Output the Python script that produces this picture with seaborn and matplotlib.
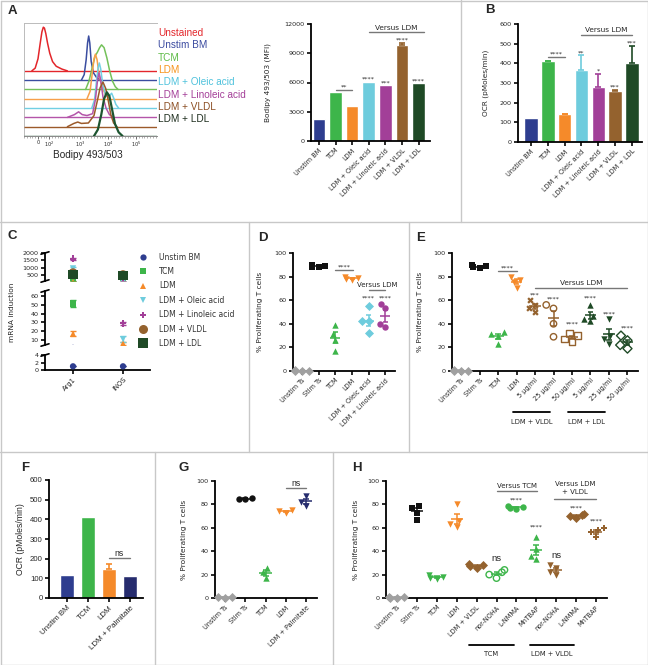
import numpy as np
import pandas as pd
import matplotlib
matplotlib.use("Agg")
import matplotlib.pyplot as plt
from matplotlib.lines import Line2D
import seaborn as sns

# ======================= DATA =======================
# Panel A (left): Bodipy 493/503 histograms (x in log10 decades, y = height above own baseline)
hist_names = ["Unstained", "Unstim BM", "TCM", "LDM", "LDM + Oleic acid",
              "LDM + Linoleic acid", "LDM + VLDL", "LDM + LDL"]
unstained_x = [1.28, 1.40, 1.50, 1.58, 1.64, 1.69, 1.73, 1.78, 1.84, 1.92, 2.02, 2.15, 2.35, 2.55]
unstained_y = [0.0, 0.3, 1.3, 3.0, 4.2, 4.7, 4.6, 4.0, 3.0, 1.9, 1.0, 0.5, 0.2, 0.0]
unstimbm_x = [3.05, 3.15, 3.22, 3.27, 3.31, 3.35, 3.40, 3.48, 3.60, 3.75]
unstimbm_y = [0.0, 0.6, 2.2, 4.0, 4.75, 4.0, 2.0, 0.8, 0.25, 0.0]
tcm_x = [3.20, 3.32, 3.44, 3.54, 3.62, 3.70, 3.77, 3.86, 3.96, 4.06, 4.16, 4.26, 4.36]
tcm_y = [0.0, 0.9, 2.4, 3.6, 4.0, 4.5, 4.8, 4.5, 3.4, 2.0, 0.9, 0.3, 0.0]
ldm_x = [3.25, 3.36, 3.44, 3.50, 3.55, 3.61, 3.68, 3.78, 3.92, 4.08]
ldm_y = [0.0, 0.8, 2.8, 4.3, 4.8, 4.2, 2.6, 1.3, 0.4, 0.0]
oleic_x = [3.42, 3.52, 3.60, 3.65, 3.69, 3.74, 3.82, 3.92, 4.04, 4.13, 4.20, 4.28, 4.38]
oleic_y = [0.0, 0.9, 3.2, 4.4, 4.85, 4.2, 2.4, 1.4, 1.3, 1.6, 1.1, 0.4, 0.0]
linoleic_x = [2.55, 2.80, 2.95, 3.08, 3.25, 3.45, 3.55, 3.63, 3.68, 3.74, 3.82, 3.93, 4.05, 4.20]
linoleic_y = [0.0, 0.3, 0.6, 0.3, 0.2, 0.4, 1.9, 4.1, 4.8, 4.0, 2.2, 1.0, 0.3, 0.0]
vldl_x = [2.55, 2.78, 2.92, 3.05, 3.30, 3.50, 3.62, 3.72, 3.82, 3.92, 4.01, 4.10, 4.20, 4.32]
vldl_y = [0.0, 0.35, 0.5, 0.35, 0.4, 1.2, 2.8, 4.2, 4.8, 4.1, 2.8, 1.3, 0.4, 0.0]
ldl_x = [3.50, 3.64, 3.76, 3.86, 3.96, 4.05, 4.15, 4.25, 4.38, 4.52]
ldl_y = [0.0, 0.7, 2.3, 4.0, 4.7, 4.3, 2.8, 1.3, 0.4, 0.0]
hist_ticklabels = ["0", "$10^2$", "$10^3$", "$10^4$", "$10^5$"]

# Panel A (right) and B: bar charts
mac_groups = ["Unstim BM", "TCM", "LDM", "LDM + Oleic acid", "LDM + Linoleic acid",
              "LDM + VLDL", "LDM + LDL"]
bodipy_mfi = [2300, 5000, 3600, 6050, 5700, 9800, 5900]
bodipy_err = [0, 0, 0, 0, 0, 250, 0]
ocr_b = [120, 410, 140, 365, 280, 258, 402]
ocr_b_err = [0, 3, 4, 75, 65, 6, 85]

# Panel C: mRNA induction
genes = ["Arg1", "iNOS"]
arg1_fold = [1, 52, 17, 950, 1600, 650, 560]
arg1_err = [0, 4, 3, 90, 80, 70, 60]
inos_fold = [1, 330, 6, 11, 29, 520, 450]
inos_err = [0, 50, 1.4, 3, 2, 60, 50]

# Panel D
d_groups = ["Unstim Ts", "Stim Ts", "TCM", "LDM", "LDM + Oleic acid", "LDM + Linoleic acid"]
d_values = [[0.4, 0.2, 0.6, 0.3], [88, 89, 90, 88], [39, 31, 26, 17], [80, 79, 78, 77],
            [55, 42, 42, 32], [57, 53, 40, 37]]

# Panel E
e_groups = ["Unstim Ts", "Stim Ts", "TCM", "LDM", "VLDL 5", "VLDL 25", "VLDL 50",
            "LDL 5", "LDL 25", "LDL 50"]
e_ticklabels = ["Unstim Ts", "Stim Ts", "TCM", "LDM", "5 µg/ml", "25 µg/ml", "50 µg/ml",
                "5 µg/ml", "25 µg/ml", "50 µg/ml"]
e_values = [[0.4, 0.2, 0.6, 0.3], [87, 88, 89, 90], [33, 31, 30, 23], [80, 77, 75, 70],
            [60, 56, 53, 50], [56, 53, 40, 29], [32, 30, 27, 25], [56, 47, 44, 42],
            [44, 30, 27, 23], [30, 26, 22, 19]]

# Panel F
f_groups = ["Unstim BM", "TCM", "LDM", "LDM + Palmitate"]
f_ocr = [115, 410, 150, 110]
f_err = [0, 0, 25, 0]

# Panel G
g_groups = ["Unstim Ts", "Stim Ts", "TCM", "LDM", "LDM + Palmitate"]
g_values = [[0.5, 0.8, 0.3], [85, 84.5, 85.5], [26, 22, 17], [75, 74, 73], [87, 82, 79]]

# Panel H
h_groups = ["Unstim Ts", "Stim Ts", "TCM", "LDM", "LDM + VLDL", "TCM nor-NOHA", "TCM L-NMMA",
            "TCM MnTBAP", "VLDL nor-NOHA", "VLDL L-NMMA", "VLDL MnTBAP"]
h_ticklabels = ["Unstim Ts", "Stim Ts", "TCM", "LDM", "LDM + VLDL", "nor-NOHA", "L-NMMA",
                "MnTBAP", "nor-NOHA", "L-NMMA", "MnTBAP"]
h_values = [[0.5, 0.3, 0.8, 0.2], [79, 77, 73, 67], [20, 18, 17, 16], [80, 66, 63, 61],
            [29, 28, 27, 26], [24, 22, 20, 17], [79, 78, 77, 76], [52, 42, 36, 33],
            [28, 26, 22, 20], [72, 71, 70, 68], [60, 58, 56, 52]]

# ======================= STYLE =======================
sns.set_theme(style="ticks")
plt.rcParams["font.family"] = ["DejaVu Sans"]
ARIAL = "Liberation Sans"

NAVY = "#2E3D8F"; GREEN = "#3DB54A"; ORANGE = "#F58A2A"; CYAN = "#6ECCDD"
PURPLE = "#A23F98"; BROWN = "#94622E"; DKGREEN = "#1F4A26"; NAVY2 = "#262C6E"
GRAY = "#A0A0A0"; BLACK = "#111111"; LINEGRAY = "#777777"
mac_colors = [NAVY, GREEN, ORANGE, CYAN, PURPLE, BROWN, DKGREEN]
hist_colors = ["#E3262B", "#3A4DA0", "#74C15A", "#F7A04A", "#71CFE3", "#B455A9", "#9C5A2A", "#1D5530"]
hist_text_colors = ["#E3262B", "#3B4BA0", "#5DBB46", "#F7941D", "#4FC2DC", "#A43F98", "#8C4F24", "#1E2E1E"]

W, H = 648, 665
fig = plt.figure(figsize=(W / 100, H / 100), dpi=100)
fig.patch.set_facecolor("white")


def add_ax(l, t, r, b):
    return fig.add_axes([l / W, 1 - b / H, (r - l) / W, (b - t) / H])


def fline(x0, y0, x1, y1, color="#C8C8C8", lw=1.0):
    fig.add_artist(Line2D([x0 / W, x1 / W], [1 - y0 / H, 1 - y1 / H], color=color, lw=lw))


def ftext(x, y, s, **kw):
    fig.text(x / W, 1 - y / H, s, **kw)


def style(ax, fs=4.6, lw=1.3, family=None):
    sns.despine(ax=ax)
    for s in ["left", "bottom"]:
        ax.spines[s].set_linewidth(lw)
        ax.spines[s].set_color("black")
    ax.tick_params(axis="both", length=3, width=lw * 0.9, labelsize=fs, pad=1.5, color="black")
    ax.set_xlabel("")
    ax.set_ylabel("")
    ax.patch.set_alpha(0)


def set_cats(ax, labels, fs, family=None):
    ax.set_xticks(range(len(labels)))
    ax.set_xticklabels(labels, rotation=45, ha="right", rotation_mode="anchor", fontsize=fs,
                       family=family if family else "DejaVu Sans")


def bracket(ax, x0, x1, y, text, fs=4.6, dy=0.0, family=None):
    ax.plot([x0, x1], [y, y], color=LINEGRAY, lw=1.0, clip_on=False)
    if text:
        ax.text((x0 + x1) / 2, y + dy, text, ha="center", va="bottom", fontsize=fs,
                family=family if family else "DejaVu Sans", clip_on=False)


def star(ax, x, y, text, fs=4.6, family=None):
    ax.text(x, y, text, ha="center", va="bottom", fontsize=fs,
            family=family if family else "DejaVu Sans", clip_on=False)


def bar_panel(ax, groups, vals, errs, colors, width):
    sns.barplot(x=groups, y=vals, hue=groups, hue_order=groups, order=groups, palette=colors,
                legend=False, dodge=False, width=width, saturation=1, errorbar=None, ax=ax)
    for i, (v, e, c) in enumerate(zip(vals, errs, colors)):
        if e > 0:
            ax.errorbar(i, v, yerr=[[0], [e]], fmt="none", ecolor=c, elinewidth=1.2,
                        capsize=2.2, capthick=1.2)


def dot_panel(ax, keys, vals, colors, markers, hollow, size):
    rows = [(k, v) for k, vs in zip(keys, vals) for v in vs]
    df = pd.DataFrame(rows, columns=["grp", "val"])
    for gi, (k, c, m, h) in enumerate(zip(keys, colors, markers, hollow)):
        n0 = len(ax.collections)
        sns.swarmplot(data=df[df.grp == k], x="grp", y="val", order=keys, color=c, marker=m,
                      size=size, linewidth=0, ax=ax, zorder=3)
        for coll in ax.collections[n0:]:
            if gi == 0:
                coll.set_clip_on(False)
            if h:
                coll.set_facecolor("none")
                coll.set_edgecolor(c)
                coll.set_linewidth(1.0)
    for i, (vs, c) in enumerate(zip(vals, colors)):
        m = np.mean(vs)
        se = np.std(vs, ddof=1) / np.sqrt(len(vs))
        ax.hlines(m, i - 0.3, i + 0.3, color=c, lw=1.1, zorder=4, clip_on=False)
        ax.vlines(i, m - se, m + se, color=c, lw=1.1, zorder=4)
        ax.hlines([m - se, m + se], i - 0.15, i + 0.15, color=c, lw=1.1, zorder=4)


# ======================= PANEL BORDERS =======================
fline(0.5, 0.5, W - 0.5, 0.5); fline(0.5, H - 0.5, W - 0.5, H - 0.5)
fline(0.5, 0.5, 0.5, H - 0.5); fline(W - 0.5, 0.5, W - 0.5, H - 0.5)
fline(0, 222, W, 222); fline(0, 452, W, 452)
fline(461, 0, 461, 222)
fline(249, 222, 249, 452); fline(409, 222, 409, 452)
fline(155, 452, 155, H); fline(333, 452, 333, H)

for lab, x, y in [("A", 12, 11), ("B", 490, 10), ("C", 12, 236), ("D", 263, 238),
                  ("E", 421, 238), ("F", 25, 468), ("G", 184, 468), ("H", 357, 468)]:
    ftext(x, y, lab, fontsize=9.5, fontweight="bold", family=ARIAL, ha="center", va="center")

# ======================= PANEL A: histograms =======================
axh = add_ax(24, 23, 157, 136)
curves = [(unstained_x, unstained_y), (unstimbm_x, unstimbm_y), (tcm_x, tcm_y), (ldm_x, ldm_y),
          (oleic_x, oleic_y), (linoleic_x, linoleic_y), (vldl_x, vldl_y), (ldl_x, ldl_y)]
for i, (xs, ys) in enumerate(curves):
    base = 7 - i
    lw = 1.6 if i == 7 else 1.1
    axh.hlines(base, 1.0, 5.75, color=hist_colors[i], lw=1.0, zorder=2 + i)
    sns.lineplot(x=xs, y=np.array(ys) + base, color=hist_colors[i], lw=lw, ax=axh,
                 estimator=None, sort=False, zorder=2 + i)
axh.set_xlim(1.0, 5.75)
axh.set_ylim(0, 12.15)
axh.set_yticks([])
axh.set_xticks([1.5, 1.9, 3, 4, 5])
axh.set_xticklabels(hist_ticklabels, fontsize=3.6)
axh.set_xticks(np.arange(1.0, 5.76, 0.1), minor=True)
axh.tick_params(axis="x", which="major", length=2, width=0.6, pad=1, color="#555555")
axh.tick_params(axis="x", which="minor", length=1.2, width=0.4, color="#777777")
for s in ["top", "left"]:
    axh.spines[s].set_color("#BBBBBB"); axh.spines[s].set_linewidth(0.7)
axh.spines["right"].set_visible(False)
axh.spines["bottom"].set_color("#888888"); axh.spines["bottom"].set_linewidth(0.7)
axh.set_xlabel("")
axh.set_ylabel("")
ftext(88, 155, "Bodipy 493/503", fontsize=7.2, family=ARIAL, ha="center", va="center")
for i, name in enumerate(hist_names):
    ftext(158, 33 + 12.3 * i, name, fontsize=7.2, family=ARIAL, color=hist_text_colors[i],
          ha="left", va="center")

# ======================= PANEL A: bars =======================
axa = add_ax(311, 24, 430, 141)
bar_panel(axa, mac_groups, bodipy_mfi, bodipy_err, mac_colors, 0.76)
style(axa)
axa.set_ylim(0, 12000)
axa.set_yticks([0, 3000, 6000, 9000, 12000])
set_cats(axa, mac_groups, 4.7)
axa.set_xlim(-0.48, 6.69)
axa.set_ylabel("Bodipy 493/503 (MFI)", fontsize=5.3)
axa.yaxis.set_label_coords(-0.34, 0.5)
bracket(axa, 1, 2, 5250, "**")
star(axa, 3, 6050, "****"); star(axa, 4, 5700, "***"); star(axa, 5, 10050, "****"); star(axa, 6, 5900, "****")
bracket(axa, 3.0, 6.3, 11180, "Versus LDM", fs=5.3, dy=150)

# ======================= PANEL B =======================
axb = add_ax(518, 24, 642, 142)
bar_panel(axb, mac_groups, ocr_b, ocr_b_err, mac_colors, 0.8)
style(axb)
axb.set_ylim(0, 600)
axb.set_yticks(range(0, 601, 100))
set_cats(axb, mac_groups, 4.7)
axb.set_xlim(-0.77, 6.6)
axb.set_ylabel("OCR (pMoles/min)", fontsize=5.3)
axb.yaxis.set_label_coords(-0.23, 0.5)
bracket(axb, 1, 2, 432, "****")
star(axb, 3, 442, "**"); star(axb, 4, 347, "*"); star(axb, 5, 266, "***"); star(axb, 6, 489, "***")
bracket(axb, 2.95, 6.0, 544, "Versus LDM", fs=5.3, dy=8)

# ======================= PANEL C (broken axis) =======================
c_markers = ["o", "s", "^", "v", "P", "o", "s"]
c_sizes = [4.5, 5.0, 4.5, 4.5, 5.0, 6.5, 6.5]
segments = [(253, 281, (90, 2000), [500, 1000, 1500, 2000]),
            (291, 345, (4.3, 65.7), [10, 20, 30, 40, 50, 60]),
            (355, 370, (0, 4.05), [0, 2, 4])]
for si, (top, bot, ylim, yt) in enumerate(segments):
    axc = add_ax(45, top, 150, bot)
    for g in range(len(mac_groups)):
        xs = [0, 1]
        ys = [arg1_fold[g], inos_fold[g]]
        es = [arg1_err[g], inos_err[g]]
        axc.errorbar(xs, ys, yerr=es, fmt="none", ecolor=mac_colors[g], elinewidth=1.0,
                     capsize=2, capthick=1.0, zorder=2)
        sns.scatterplot(x=xs, y=ys, marker=c_markers[g], color=mac_colors[g], s=c_sizes[g] ** 2,
                        edgecolor="none", ax=axc, zorder=3)
    style(axc)
    axc.set_ylim(*ylim)
    axc.set_yticks(yt)
    axc.set_xlim(-0.56, 1.54)
    if si < 2:
        axc.spines["bottom"].set_visible(False)
        axc.set_xticks([])
    else:
        set_cats(axc, genes, 4.9)
    for yy in ([top, bot] if si < 2 else [top]):
        fline(41, yy + 1.2, 49, yy - 1.2, color="black", lw=1.2)
ftext(12, 312, "mRNA induction", fontsize=5.3, rotation=90, ha="center", va="center")
for i, name in enumerate(mac_groups):
    yy = 257 + 14.4 * i
    fig.add_artist(Line2D([143 / W], [1 - yy / H], marker=c_markers[i], color=mac_colors[i],
                          markersize=c_sizes[i], linestyle="none", markeredgewidth=0))
    ftext(159, yy, name, fontsize=5.5, ha="left", va="center", color="#333333")

# ======================= PANEL D =======================
axd = add_ax(293, 253, 395, 371)
dot_panel(axd, d_groups, d_values, [GRAY, BLACK, GREEN, ORANGE, CYAN, PURPLE],
          ["D", "s", "^", "v", "D", "o"], [False] * 6, 4.6)
style(axd)
axd.set_ylim(0, 100)
axd.set_yticks(range(0, 101, 20))
set_cats(axd, d_groups, 4.7)
axd.set_xlim(-0.54, 5.57)
axd.set_ylabel("% Proliferating T cells", fontsize=5.3)
axd.yaxis.set_label_coords(-0.29, 0.5)
bracket(axd, 2, 3.05, 85.6, "****")
star(axd, 4, 60, "****"); star(axd, 5, 60, "****")
bracket(axd, 4, 5, 68.6, "Versus LDM", fs=5.0, dy=1.5)

# ======================= PANEL E =======================
axe = add_ax(452, 253, 638, 371)
dot_panel(axe, e_groups, e_values,
          [GRAY, BLACK, GREEN, ORANGE, BROWN, BROWN, BROWN, DKGREEN, DKGREEN, DKGREEN],
          ["D", "s", "^", "v", "X", "o", "s", "^", "v", "D"],
          [False, False, False, False, False, True, True, False, False, True], 4.6)
style(axe)
axe.set_ylim(0, 100)
axe.set_yticks(range(0, 101, 20))
set_cats(axe, e_ticklabels, 4.7)
axe.set_xlim(-0.49, 9.57)
axe.set_ylabel("% Proliferating T cells", fontsize=5.3)
axe.yaxis.set_label_coords(-0.156, 0.5)
bracket(axe, 2, 3, 85, "****")
bracket(axe, 4, 9, 70.6, "Versus LDM", fs=5.3, dy=1.5)
for xi, yv, t in [(4, 62.5, "***"), (5, 58.5, "****"), (6, 37.5, "****"),
                  (7, 59.5, "****"), (8, 46, "****"), (9, 34, "****")]:
    star(axe, xi, yv, t)
trE = axe.get_xaxis_transform()
for (x0, x1, lab) in [(2.8, 4.8, "LDM + VLDL"), (5.8, 7.8, "LDM + LDL")]:
    axe.plot([x0, x1], [-0.347, -0.347], color="black", lw=1.3, transform=trE, clip_on=False)
    axe.text((x0 + x1) / 2, -0.43, lab, transform=trE, ha="center", va="center", fontsize=4.9)

# ======================= PANEL F =======================
axf = add_ax(49, 480, 143, 598)
bar_panel(axf, f_groups, f_ocr, f_err, [NAVY, GREEN, ORANGE, NAVY2], 0.68)
style(axf, fs=5.6)
axf.set_ylim(0, 600)
axf.set_yticks(range(0, 601, 100))
for lab in axf.get_yticklabels():
    lab.set_family(ARIAL)
set_cats(axf, f_groups, 5.8, family=ARIAL)
axf.set_xlim(-0.86, 3.62)
axf.set_ylabel("OCR (pMoles/min)", fontsize=6.2, family=ARIAL)
axf.yaxis.set_label_coords(-0.255, 0.5)
bracket(axf, 2, 3, 203, "ns", fs=6.2, family=ARIAL)

# ======================= PANEL G =======================
axg = add_ax(215, 481, 317, 598)
dot_panel(axg, g_groups, g_values, [GRAY, BLACK, GREEN, ORANGE, NAVY2],
          ["D", "o", "^", "v", "v"], [False] * 5, 4.6)
style(axg)
axg.set_ylim(0, 100)
axg.set_yticks(range(0, 101, 20))
set_cats(axg, g_groups, 4.7)
axg.set_xlim(-0.49, 4.53)
axg.set_ylabel("% Proliferating T cells", fontsize=5.3)
axg.yaxis.set_label_coords(-0.27, 0.5)
bracket(axg, 3, 4, 94, "ns", fs=6.2, family=ARIAL)

# ======================= PANEL H =======================
axhh = add_ax(386, 481, 607, 598)
dot_panel(axhh, h_groups, h_values,
          [GRAY, BLACK, GREEN, ORANGE, BROWN, GREEN, GREEN, GREEN, BROWN, BROWN, BROWN],
          ["D", "s", "v", "v", "D", "o", "o", "^", "v", "D", "P"],
          [False, False, False, False, False, True, False, False, False, False, False], 4.6)
style(axhh)
axhh.set_ylim(0, 100)
axhh.set_yticks(range(0, 101, 20))
set_cats(axhh, h_ticklabels, 4.7)
axhh.set_xlim(-0.55, 10.55)
axhh.set_ylabel("% Proliferating T cells", fontsize=5.3)
axhh.yaxis.set_label_coords(-0.122, 0.5)
star(axhh, 5, 29.5, "ns", fs=6.8, family=ARIAL)
star(axhh, 8, 32.5, "ns", fs=6.8, family=ARIAL)
star(axhh, 6, 82, "****"); star(axhh, 7, 58.5, "****")
star(axhh, 9, 74.5, "****"); star(axhh, 10, 64, "****")
bracket(axhh, 5, 7.05, 91.5, "Versus TCM", fs=5.0, dy=1.5)
bracket(axhh, 7.9, 10, 84.6, "", fs=5.0)
axhh.text(8.95, 97.5, "Versus LDM", ha="center", va="center", fontsize=5.0, clip_on=False)
axhh.text(8.95, 90.5, "+ VLDL", ha="center", va="center", fontsize=5.0, clip_on=False)
trH = axhh.get_xaxis_transform()
for (x0, x1, lab) in [(3.6, 5.9, "TCM"), (6.7, 8.9, "LDM + VLDL")]:
    axhh.plot([x0, x1], [-0.40, -0.40], color="black", lw=1.3, transform=trH, clip_on=False)
    axhh.text((x0 + x1) / 2, -0.48, lab, transform=trH, ha="center", va="center", fontsize=4.9)

fig.savefig("out.png", dpi=100)
